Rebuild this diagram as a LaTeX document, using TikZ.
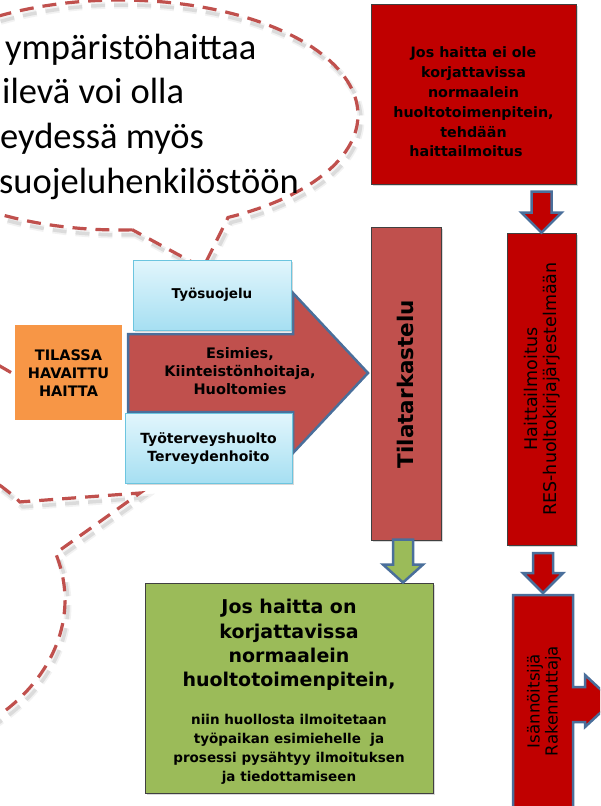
\documentclass[tikz,border=0pt]{standalone}
\usepackage{fontspec}
\setmainfont{DejaVu Sans}
\newfontfamily\calib{Carlito}
\usetikzlibrary{calc,shadows}
\definecolor{dred}{HTML}{C00000}
\definecolor{sred}{HTML}{C0504D}
\definecolor{orng}{HTML}{F79646}
\definecolor{grn}{HTML}{9BBB59}
\definecolor{bord}{HTML}{4A6F9B}
\definecolor{lbtop}{HTML}{E2F6FC}
\definecolor{lbbot}{HTML}{A6DFF2}
\definecolor{lbbord}{HTML}{6CC5DF}
\begin{document}
\begin{tikzpicture}[x=1pt,y=-1pt,
  box/.style={draw=black!75, line width=0.9, inner sep=0,
    drop shadow={opacity=.3,shadow xshift=2pt,shadow yshift=-2pt}},
  bluebox/.style={draw=lbbord, line width=1, top color=lbtop, bottom color=lbbot,
    inner sep=0, drop shadow={opacity=.3,shadow xshift=2pt,shadow yshift=-2pt}},
  blockarrow/.style={draw=bord, line width=2.5, line join=miter},
  bubble/.style={draw=sred, line width=3.2, dash pattern=on 14pt off 9pt},
  bubshadowa/.style={draw=black!40, line width=7, opacity=.12, dash pattern=on 14pt off 9pt},
  bubshadowb/.style={draw=black!40, line width=3.5, opacity=.25, dash pattern=on 14pt off 9pt},
  txt/.style={align=center, inner sep=0, font=\bfseries\fontsize{14.5}{18}\selectfont}
]
\useasboundingbox (0,0) rectangle (600,806);
\clip (0,0) rectangle (600,806);
\fill[white] (0,0) rectangle (600,806);

% ---------- speech bubble shadows ----------
\foreach \sty in {bubshadowa,bubshadowb}{
\begin{scope}[shift={(3,5)}]
\draw[\sty] plot[domain=-273:63,samples=160] ({120+238*cos(\x)},{115+115*sin(\x)}) -- (203,268) -- cycle;
\draw[\sty] plot[domain=-150:-37.8,samples=80] ({-150+215*cos(\x)},{600+160*sin(\x)})
  -- (140,493) -- ({-150+215*cos(-17)},{600+160*sin(-17)})
  -- plot[domain=-17:120,samples=80] ({-150+215*cos(\x)},{600+160*sin(\x)});
\end{scope}
}
% ---------- speech bubbles ----------
\draw[bubble] plot[domain=-273:63,samples=160] ({120+238*cos(\x)},{115+115*sin(\x)}) -- (203,268) -- cycle;
\draw[bubble] plot[domain=-150:-37.8,samples=80] ({-150+215*cos(\x)},{600+160*sin(\x)})
  -- (140,493) -- ({-150+215*cos(-17)},{600+160*sin(-17)})
  -- plot[domain=-17:120,samples=80] ({-150+215*cos(\x)},{600+160*sin(\x)});

% bubble text
\begin{scope}[every node/.style={anchor=base west, inner sep=0, font=\calib\fontsize{36.5}{44}\selectfont}]
\node (b1) at (5,59) {ympäristöhaittaa};
\node (b2) at (2,103) {ilevä voi olla};
\node (b3) at (0,148) {eydessä myös};
\node (b4) at (-1,193) {suojeluhenkilöstöön};
\end{scope}

% ---------- boxes ----------
\node[box, draw=white, line width=4, fill=orng, minimum width=111, minimum height=99] (tilassa) at (68.5,372.5) {};
\node[txt] at (68.5,373) {TILASSA\\HAVAITTU\\HAITTA};

% big arrow
\draw[blockarrow, fill=sred] (128,334) -- (293,334) -- (293,293) -- (368,373) -- (293,453) -- (293,412) -- (128,412) -- cycle;
\node[txt] (esimies) at (240,371) {Esimies,\\Kiinteistönhoitaja,\\Huoltomies};

\node[bluebox, minimum width=158, minimum height=70] (tyosuojelu) at (212,295) {};
\node[txt, font=\bfseries\fontsize{13.5}{18}\selectfont] at (tyosuojelu) {Työsuojelu};
\node[bluebox, minimum width=167, minimum height=70] (tyoterveys) at (208.5,448) {};
\node[txt, font=\bfseries\fontsize{14}{18}\selectfont] at (208.5,449) {Työterveyshuolto\\Terveydenhoito};

% Tilatarkastelu
\node[box, fill=sred, minimum width=70, minimum height=313] (tila) at (406,383.5) {};
\node[txt, rotate=90, font=\bfseries\fontsize{21.5}{24}\selectfont] at (405,384) {Tilatarkastelu};

% top red box
\node[box, fill=dred, minimum width=205, minimum height=180] (top) at (473.5,94) {};
\node[txt, font=\bfseries\fontsize{14.3}{19.8}\selectfont] at (473.5,102) {Jos haitta ei ole\\korjattavissa\\normaalein\\huoltotoimenpitein,\\tehdään\\haittailmoitus\hspace*{15pt}};

% Haittailmoitus
\node[box, fill=dred, minimum width=69, minimum height=312] (haitta) at (541.5,389) {};
\node[align=center, inner sep=0, rotate=90, font=\fontsize{17.5}{19}\selectfont] at (542,389) {Haittailmoitus\\RES-huoltokirjajärjestelmään};

% green box
\node[box, fill=grn, minimum width=288, minimum height=210] (green) at (289,688) {};
\node[txt, font=\bfseries\fontsize{19}{24.2}\selectfont] at (289,645) {Jos haitta on\\korjattavissa\\normaalein\\huoltotoimenpitein,};
\node[txt, font=\bfseries\fontsize{13.5}{19}\selectfont] at (289,749) {niin huollosta ilmoitetaan\\työpaikan esimiehelle~ ja\\prosessi pysähtyy ilmoituksen\\ja tiedottamiseen};

% Isännöitsijä / Rakennuttaja with right arrow
\coordinate (isann) at (543,595);
\draw[blockarrow, fill=dred] (513,595) -- (573,595) -- (573,687) -- (585,687) -- (585,675) -- (613,701)
  -- (585,727) -- (585,722) -- (573,722) -- (573,812) -- (513,812) -- cycle;
\node[align=center, inner sep=0, rotate=90, font=\fontsize{16.6}{18}\selectfont] (isanntxt) at (544,701) {Isännöitsijä\\Rakennuttaja};

% ---------- down arrows ----------
\draw[blockarrow, fill=dred] (haitta.north) -- ++(-20,-20) -- ++(10,0) -- ++(0,-21) -- ++(20,0) -- ++(0,21) -- ++(10,0) -- cycle;
\draw[blockarrow, fill=dred] (isann) ++(0,-2) -- ++(-20,-20) -- ++(10,0) -- ++(0,-20) -- ++(20,0) -- ++(0,20) -- ++(10,0) -- cycle;
\draw[blockarrow, fill=grn] ($(tila.south |- green.north)+(-3,0)$) -- ++(-20,-18) -- ++(10,0) -- ++(0,-25) -- ++(20,0) -- ++(0,25) -- ++(10,0) -- cycle;

% short dashed piece of a bubble pointing at the orange box
\coordinate (dashstart) at (-2,365);
\draw[sred, line width=3.2, line cap=butt] (dashstart) -- (tilassa.west);
\end{tikzpicture}
\end{document}
